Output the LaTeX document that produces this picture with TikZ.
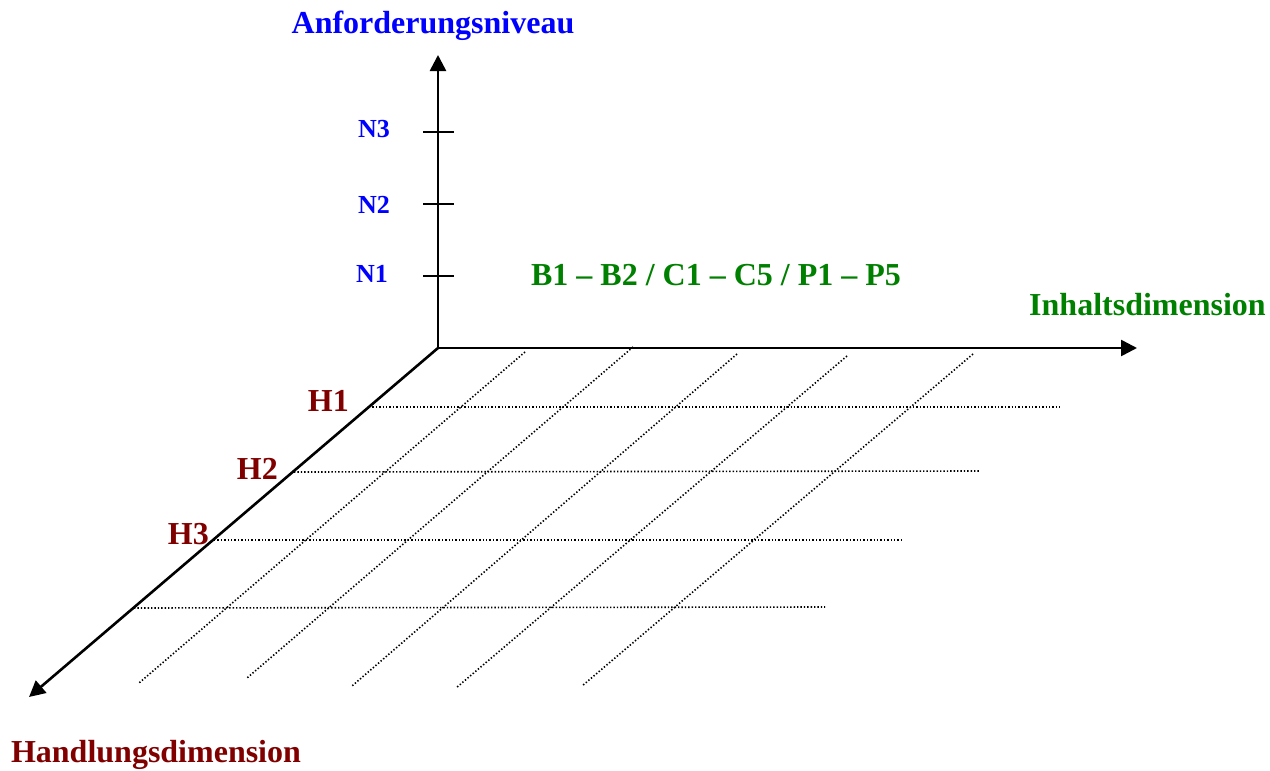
\documentclass[tikz,border=0pt]{standalone}
\usepackage{fontspec}
\setmainfont{Liberation Serif}
\usetikzlibrary{arrows.meta}
\definecolor{nblue}{RGB}{0,0,255}
\definecolor{ngreen}{RGB}{0,128,0}
\definecolor{nred}{RGB}{128,0,0}
\tikzset{
  axis/.style={line width=2.6pt,-{Triangle[length=16pt,width=16pt]}},
  grid/.style={line width=1.6pt,dash pattern=on 1.4pt off 2.0pt},
  tickline/.style={line width=1.8pt},
  lbl/.style={inner sep=0pt,font=\bfseries\fontsize{32}{36}\selectfont},
  nlbl/.style={inner sep=0pt,anchor=base east,text=nblue,font=\bfseries\fontsize{26}{30}\selectfont},
  hlbl/.style={lbl,anchor=base east,text=nred}
}
\begin{document}
\begin{tikzpicture}[x=1pt,y=-1pt]
\useasboundingbox (0,0) rectangle (1270,771);
% grid
\coordinate (g1a) at (525,352); \coordinate (g1b) at (139,683);
\coordinate (g2a) at (633,347); \coordinate (g2b) at (247,678);
\coordinate (g3a) at (737,354); \coordinate (g3b) at (352,686);
\coordinate (g4a) at (847,356); \coordinate (g4b) at (456,688);
\coordinate (g5a) at (973,354); \coordinate (g5b) at (582,686);
\foreach \i in {1,...,5} {\draw[grid] (g\i a) -- (g\i b);}
\coordinate (h1a) at (369,407); \coordinate (h1b) at (1060,407);
\coordinate (h2a) at (294,472); \coordinate (h2b) at (980,471);
\coordinate (h3a) at (214,540); \coordinate (h3b) at (903,540);
\coordinate (h4a) at (134,608); \coordinate (h4b) at (825,607);
\foreach \i in {1,...,4} {\draw[grid] (h\i a) -- (h\i b);}
% axes
\coordinate (O) at (438,348);
\coordinate (up) at (438,55);
\coordinate (right) at (1137,348);
\coordinate (diag) at (29,697);
\draw[axis] (O) -- (up);
\draw[axis] (O) -- (right);
\draw[axis] (O) -- (diag);
% ticks
\coordinate (t1a) at (423,276); \coordinate (t1b) at (454,276);
\coordinate (t2a) at (423,204); \coordinate (t2b) at (454,204);
\coordinate (t3a) at (423,132); \coordinate (t3b) at (454,132);
\draw[tickline] (t1a) -- (t1b);
\draw[tickline] (t2a) -- (t2b);
\draw[tickline] (t3a) -- (t3b);
% labels
\node[lbl,anchor=base,text=nblue] (title) at (433,33) {Anforderungsniveau};
\node[nlbl] (n3) at (390,137) {N3};
\node[nlbl] (n2) at (390,213) {N2};
\node[nlbl] (n1) at (388,282) {N1};
\node[lbl,anchor=base,text=ngreen] (content) at (716,285) {B1 – B2 / C1 – C5 / P1 – P5};
\node[lbl,anchor=base,text=ngreen] (inh) at (1147.5,315) {Inhaltsdimension};
\node[hlbl] (hh1) at (349,411) {H1};
\node[hlbl] (hh2) at (278,479) {H2};
\node[hlbl] (hh3) at (209,544) {H3};
\node[lbl,anchor=base,text=nred] (hand) at (156,762) {Handlungsdimension};
\end{tikzpicture}
\end{document}
